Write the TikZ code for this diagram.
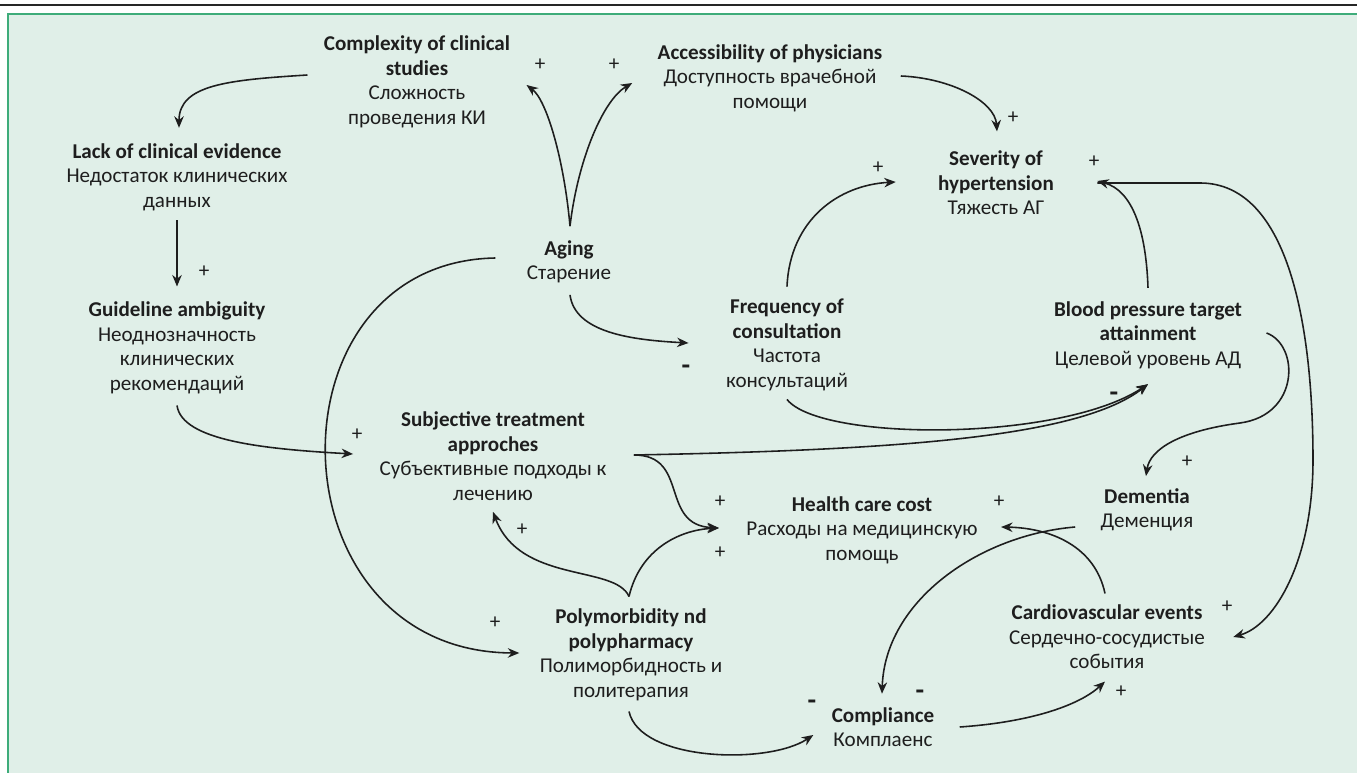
\documentclass[tikz,border=0pt]{standalone}
\usepackage{fontspec}
\setmainfont{Carlito}
\usetikzlibrary{arrows.meta}
\definecolor{panelfill}{RGB}{224,239,232}
\definecolor{panelrule}{RGB}{62,172,122}
\definecolor{inkdark}{RGB}{30,30,30}

\begin{document}
\begin{tikzpicture}[x=0.02cm, y=-0.02cm]
\tikzset{
  factor/.style={align=center, inner sep=3.5pt, text=inkdark, font=\fontsize{12}{14}\selectfont},
  link/.style={-{Stealth[length=2.3mm, width=1.9mm]}, line width=0.9pt, draw=inkdark},
  plus/.style={inner sep=0pt, text=inkdark, font=\fontsize{12}{14}\selectfont},
  minus/.style={inner sep=0pt, text=inkdark, font=\fontsize{16}{16}\selectfont\bfseries}
}
\useasboundingbox (0,0) rectangle (1357,773);
\clip (0,0) rectangle (1357,773);
\draw[line width=1.4pt, black!85] (0,5) -- (1357,5);
\draw[panelrule, line width=1pt, fill=panelfill] (8,14) rectangle (1380,800);

\node[factor] (comp) at (417,82) {\textbf{Complexity of clinical}\\\textbf{studies}\\Сложность\\проведения КИ};
\node[factor] (access) at (770,78) {\textbf{Accessibility of physicians}\\Доступность врачебной\\помощи};
\node[factor] (lack) at (177,177) {\textbf{Lack of clinical evidence}\\Недостаток клинических\\данных};
\node[factor] (guide) at (177,348) {\textbf{Guideline ambiguity}\\Неоднозначность\\клинических\\рекомендаций};
\node[factor] (aging) at (569,262) {\textbf{Aging}\\Старение};
\node[factor] (sev) at (996,183) {\textbf{Severity of}\\\textbf{hypertension}\\Тяжесть АГ};
\node[factor] (freq) at (787,345) {\textbf{Frequency of}\\\textbf{consultation}\\Частота\\консультаций};
\node[factor] (bp) at (1148,335) {\textbf{Blood pressure target}\\\textbf{attainment}\\Целевой уровень АД};
\node[factor] (subj) at (493,456) {\textbf{Subjective treatment}\\\textbf{approches}\\Субъективные подходы к\\лечению};
\node[factor] (health) at (862,530) {\textbf{Health care cost}\\Расходы на медицинскую\\помощь};
\node[factor] (dem) at (1147,510) {\textbf{Dementia}\\Деменция};
\node[factor] (cardio) at (1107,637) {\textbf{Cardiovascular events}\\Сердечно-сосудистые\\события};
\node[factor] (poly) at (631,655) {\textbf{Polymorbidity nd}\\\textbf{polypharmacy}\\Полиморбидность и\\политерапия};
\node[factor] (compl) at (883,727) {\textbf{Compliance}\\Комплаенс};

\draw[link] ([shift={(-10,-7)}]comp.west) .. controls +(-80,5) and +(0,-43) .. ([shift={(2,-9)}]lack.north);
\draw[link] ([shift={(0,3)}]lack.south) -- ([shift={(0,-9)}]guide.north);
\draw[link] ([shift={(0,5)}]guide.south) .. controls +(5,35) and +(-90,-5) .. ([shift={(-20,-2)}]subj.west);
\draw[link] ([shift={(1,-8)}]aging.north) .. controls +(-6,-67) and +(20,15) .. ([shift={(10,3)}]comp.east);
\draw[link] ([shift={(1,-8)}]aging.north) .. controls +(8,-67) and +(-29,17) .. ([shift={(-19,5)}]access.west);
\draw[link] ([shift={(1,5)}]aging.south) .. controls +(5,38) and +(-56,-3) .. ([shift={(-31,-2)}]freq.west);
\draw[link] ([shift={(-25,-4)}]aging.west) .. controls +(-233,4) and +(-250,-1) .. ([shift={(-14,-2)}]poly.west);
\draw[link] ([shift={(12,-2)}]access.east) .. controls +(50,2) and +(-2,-30) .. ([shift={(1,-13)}]sev.north);
\draw[link] ([shift={(0,-6)}]freq.north) .. controls +(3,-67) and +(-57,3) .. ([shift={(-36,-1)}]sev.west);
\draw[link] ([shift={(0,-7)}]bp.north) .. controls +(-2,-60) and +(34,9) .. ([shift={(37,-2)}]sev.east);
\draw[link] ([shift={(37,0)}]sev.east) -- (1200,183) .. controls (1290,183) and (1313,330) .. (1313,460)
  .. controls (1313,560) and (1275,625) .. ([shift={(22,0)}]cardio.east);
\draw[link] ([shift={(0,2)}]freq.south) .. controls +(33,42) and +(-88,58) .. ([shift={(0,9)}]bp.south);
\draw[link] ([shift={(21,-1)}]subj.east) .. controls +(266,-5) and +(-68,53) .. ([shift={(0,9)}]bp.south);
\draw[link] ([shift={(21,-1)}]subj.east) .. controls +(56,0) and +(-60,-3) .. ([shift={(-21,-2)}]health.west);
\draw[link] ([shift={(-2,-6)}]poly.north) .. controls +(-14,-32) and +(27,72) .. ([shift={(0,5)}]subj.south);
\draw[link] ([shift={(-2,-6)}]poly.north) .. controls +(11,-47) and +(-40,2) .. ([shift={(-21,-2)}]health.west);
\draw[link] ([shift={(-2,4)}]poly.south) .. controls +(11,50) and +(-45,30) .. ([shift={(-12,8)}]compl.west);
\draw[link] ([shift={(-19,17)}]dem.west) .. controls +(-96,8) and +(3,-93) .. ([shift={(-1,-7)}]compl.north);
\draw[link] ([shift={(-2,-5)}]cardio.north) .. controls +(-10,-47) and +(50,1) .. ([shift={(17,-3)}]health.east);
\draw[link] ([shift={(19,0)}]compl.east) .. controls +(73,-5) and +(-25,23) .. ([shift={(-2,6)}]cardio.south);
\draw[link] ([shift={(18,-2)}]bp.east) .. controls +(33,12) and +(60,-8) .. (1240,423)
  .. controls +(-60,8) and +(4,-27) .. ([shift={(-1,-6)}]dem.north);

\node[plus] (p1) at (540,65) {+};
\node[plus] (p2) at (614,65) {+};
\node[plus] (p3) at (1013,118) {+};
\node[plus] (p4) at (878,168) {+};
\node[plus] (p5) at (1094,162) {+};
\node[plus] (p6) at (204,272) {+};
\node[plus] (p7) at (357,435) {+};
\node[plus] (p8) at (522,530) {+};
\node[plus] (p9) at (495,623) {+};
\node[plus] (p10) at (720,502) {+};
\node[plus] (p11) at (720,553) {+};
\node[plus] (p12) at (999,502) {+};
\node[plus] (p13) at (1187,462) {+};
\node[plus] (p14) at (1227,607) {+};
\node[plus] (p15) at (1121,692) {+};
\node[minus] (m1) at (686,370) {-};
\node[minus] (m2) at (1114,397) {-};
\node[minus] (m3) at (812,705) {-};
\node[minus] (m4) at (920,695) {-};
\end{tikzpicture}
\end{document}
